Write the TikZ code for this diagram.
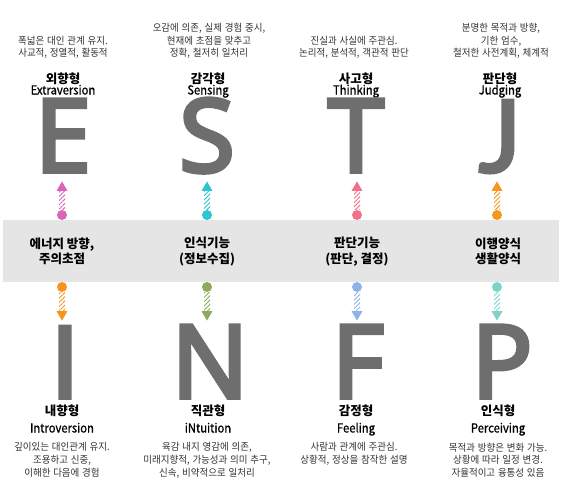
\documentclass[tikz,border=0pt]{standalone}
\usepackage{fontspec}
\setmainfont{Noto Sans CJK KR}
\newfontfamily\bigfont[FakeBold=3.5]{Noto Sans}
\newfontfamily\jfont[FakeBold=3.5]{Lato}
\newfontfamily\descfont[FakeStretch=0.95,WordSpace=1.3]{Noto Sans CJK KR}
\newfontfamily\engfont[FakeStretch=0.9,FakeBold=0.8]{Noto Sans CJK KR}
\usetikzlibrary{shapes.geometric,patterns.meta,calc}
\definecolor{letgray}{HTML}{6E6E6E}
\definecolor{descgray}{HTML}{333333}
\definecolor{bandgray}{HTML}{E5E5E5}
\definecolor{cE}{HTML}{D865B8}
\definecolor{cS}{HTML}{2EC4D0}
\definecolor{cT}{HTML}{F0728A}
\definecolor{cJ}{HTML}{F5961E}
\definecolor{cI}{HTML}{F7941D}
\definecolor{cN}{HTML}{8DAA5B}
\definecolor{cF}{HTML}{8DB3E8}
\definecolor{cP}{HTML}{7CD4C8}
\newcommand\hatchlink[3]{\fill[pattern={Lines[angle=45,distance=3pt,line width=0.9pt]}, pattern color=#3] ($(#1)+(-3,0)$) rectangle ($(#2)+(3,0)$);}
\tikzset{
  desc/.style={font=\descfont\fontsize{10}{12.7}\selectfont, align=center, inner sep=0, text=descgray},
  lab/.style={font=\bfseries\fontsize{12.5}{14}\selectfont, inner sep=0, anchor=base, text=black},
  eng/.style={font=\engfont\fontsize{12.5}{14}\selectfont, inner sep=0, anchor=base, text=black},
  bandtxt/.style={font=\bfseries\fontsize{12.5}{15.5}\selectfont, align=center, inner sep=0, text=black},
  bigl/.style={font=\bigfont\fontsize{102}{102}\selectfont, text=letgray, inner sep=0, anchor=base, text depth=0pt},
  bigj/.style={font=\jfont\fontsize{100}{100}\selectfont, text=letgray, inner sep=0, anchor=base, text depth=0pt},
  dotn/.style={circle, fill=#1, minimum size=10pt, inner sep=0},
  triup/.style={regular polygon, regular polygon sides=3, fill=#1, minimum size=12.5pt, inner sep=0, anchor=south},
  tridown/.style={regular polygon, regular polygon sides=3, shape border rotate=180, fill=#1, minimum size=12.5pt, inner sep=0, anchor=north}
}
\begin{document}
\begin{tikzpicture}[x=1pt,y=-1pt]
\useasboundingbox (0,0) rectangle (562,493);
% band
\fill[bandgray] (3,220) rectangle (559,282);
% band texts
\node[bandtxt] (b1) at (62,251.5) {에너지 방향,\\주의초점};
\node[bandtxt] (b2) at (207,251.5) {인식기능\\(정보수집)};
\node[bandtxt] (b3) at (357,251.5) {판단기능\\(판단, 결정)};
\node[bandtxt] (b4) at (498,251.5) {이행양식\\생활양식};
% top descriptions
\node[desc, anchor=south] (dE) at (63,59) {폭넓은 대인 관계 유지.\\사교적, 정열적, 활동적};
\node[desc, anchor=south] (dS) at (209,59) {오감에 의존, 실제 경험 중시,\\현재에 초점을 맞추고\\정확, 철저히 일처리};
\node[desc, anchor=south] (dT) at (354,59) {진실과 사실에 주관심.\\논리적, 분석적, 객관적 판단};
\node[desc, anchor=south] (dJ) at (501,59) {분명한 목적과 방향,\\기한 엄수,\\철저한 사전계획, 체계적};
% top labels
\node[lab] (kE) at (63,83) {외향형};
\node[eng] (eE) at (63,94.5) {Extraversion};
\node[lab] (kS) at (208,83) {감각형};
\node[eng] (eS) at (208,94.5) {Sensing};
\node[lab] (kT) at (356,83) {사고형};
\node[eng] (eT) at (356,94.5) {Thinking};
\node[lab] (kJ) at (500,83) {판단형};
\node[eng] (eJ) at (500,94.5) {Judging};
% top letters
\node[bigl] (E) at (63,172) {E};
\node[bigl] (S) at (207,172) {S};
\node[bigl] (T) at (356,172) {T};
\node[bigj] (J) at (500,172) {J};
% top connectors
\node[dotn=cE] (oE) at (62,215) {};
\node[triup=cE] (tE) at (62,191) {};
\hatchlink{oE.north}{tE.south}{cE}
\node[dotn=cS] (oS) at (207,215) {};
\node[triup=cS] (tS) at (207,191) {};
\hatchlink{oS.north}{tS.south}{cS}
\node[dotn=cT] (oT) at (357,215) {};
\node[triup=cT] (tT) at (357,191) {};
\hatchlink{oT.north}{tT.south}{cT}
\node[dotn=cJ] (oJ) at (497,215) {};
\node[triup=cJ] (tJ) at (497,191) {};
\hatchlink{oJ.north}{tJ.south}{cJ}
% bottom connectors
\node[dotn=cI] (oI) at (62,287) {};
\node[tridown=cI] (tI) at (62,311) {};
\hatchlink{oI.south}{tI.north}{cI}
\node[dotn=cN] (oN) at (207,287) {};
\node[tridown=cN] (tN) at (207,311) {};
\hatchlink{oN.south}{tN.north}{cN}
\node[dotn=cF] (oF) at (357,287) {};
\node[tridown=cF] (tF) at (357,311) {};
\hatchlink{oF.south}{tF.north}{cF}
\node[dotn=cP] (oP) at (497,287) {};
\node[tridown=cP] (tP) at (497,311) {};
\hatchlink{oP.south}{tP.north}{cP}
% bottom letters
\node[bigj] (I) at (65,398) {I};
\node[bigl] (N) at (210,398) {N};
\node[bigl] (F) at (358,398) {F};
\node[bigl] (P) at (502,398) {P};
% bottom labels
\node[lab] (kI) at (62,415.5) {내향형};
\node[eng] (eI) at (62,432.5) {Introversion};
\node[lab] (kN) at (208,415.5) {직관형};
\node[eng] (eN) at (208,432.5) {iNtuition};
\node[lab] (kF) at (356,415.5) {감정형};
\node[eng] (eF) at (356,432.5) {Feeling};
\node[lab] (kP) at (498,415.5) {인식형};
\node[eng] (eP) at (498,432.5) {Perceiving};
% bottom descriptions
\node[desc, anchor=north] (dI) at (62,442.5) {깊이있는 대인관계 유지.\\조용하고 신중,\\이해한 다음에 경험};
\node[desc, anchor=north] (dN) at (207,442.5) {육감 내지 영감에 의존,\\미래지향적, 가능성과 의미 추구,\\신속, 비약적으로 일처리};
\node[desc, anchor=north] (dF) at (354,442.5) {사람과 관계에 주관심.\\상황적, 정상을 참작한 설명};
\node[desc, anchor=north] (dP) at (498,442.5) {목적과 방향은 변화 가능.\\상황에 따라 일정 변경.\\자율적이고 융통성 있음};
\end{tikzpicture}
\end{document}
